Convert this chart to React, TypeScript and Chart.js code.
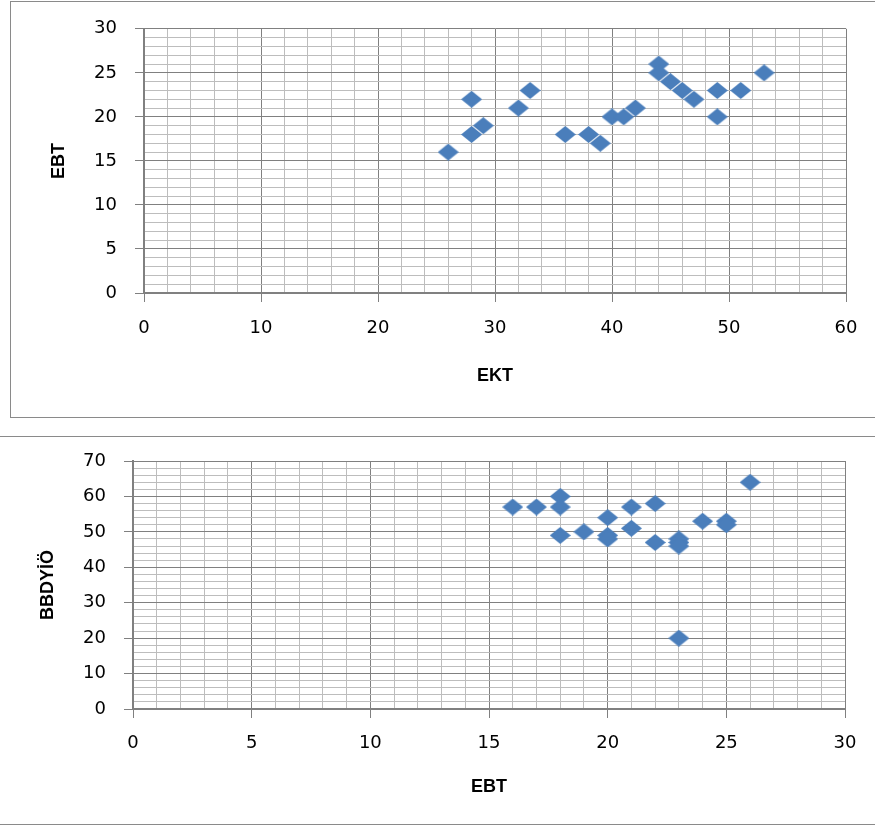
import React, { useEffect, useRef } from "react";
import { Chart, registerables } from "chart.js";

Chart.register(...registerables);

// Chart 1: EKT (x) vs EBT (y)
const ektValues = [26, 28, 28, 29, 32, 33, 36, 38, 39, 40, 41, 42, 44, 44, 45, 46, 47, 49, 49, 51, 53];
const ebtValues1 = [16, 22, 18, 19, 21, 23, 18, 18, 17, 20, 20, 21, 26, 25, 24, 23, 22, 23, 20, 23, 25];

// Chart 2: EBT (x) vs BBDYİÖ (y)
const ebtValues2 = [16, 17, 18, 18, 18, 19, 20, 20, 20, 21, 21, 22, 22, 23, 23, 23, 23, 24, 25, 25, 26];
const bbdyioValues = [57, 57, 60, 57, 49, 50, 54, 49, 48, 57, 51, 58, 47, 48, 47, 46, 20, 53, 53, 52, 64];

const MAJOR = "#808080";
const MINOR = "#bdbdbd";
const MARKER = "#4a7ebb";

function makeDiamond(): HTMLCanvasElement {
  const c = document.createElement("canvas");
  c.width = 21;
  c.height = 17;
  const g = c.getContext("2d")!;
  g.fillStyle = MARKER;
  g.beginPath();
  g.moveTo(0, 8.5);
  g.lineTo(10.5, 0);
  g.lineTo(21, 8.5);
  g.lineTo(10.5, 17);
  g.closePath();
  g.fill();
  return c;
}

type Cfg = {
  xs: number[];
  ys: number[];
  xMax: number;
  xStep: number;
  xMajor: number;
  yMax: number;
  yStep: number;
  yMajor: number;
  xTitle: string;
  yTitle: string;
  width: number;
  height: number;
  padTop: number;
  padRight: number;
  yAxisWidth: number;
  xAxisHeight: number;
  xTickPad: number;
  xTitlePad: number;
  yTitlePad: number;
};

function ScatterBox({ cfg }: { cfg: Cfg }) {
  const ref = useRef<HTMLCanvasElement | null>(null);
  useEffect(() => {
    if (!ref.current) return;
    const diamond = makeDiamond();
    const data = cfg.xs.map((x, i) => ({ x, y: cfg.ys[i] }));
    const isMaj = (v: number, m: number) => Math.abs(v / m - Math.round(v / m)) < 1e-6;
    const tickFont = { family: "'DejaVu Sans'", size: 18 };
    const titleFont = { family: "'Liberation Sans'", size: 18, weight: "bold" as const };
    const chart = new Chart(ref.current, {
      type: "scatter",
      data: {
        datasets: [
          {
            data,
            pointStyle: diamond as any,
            pointRadius: 10,
            backgroundColor: MARKER,
            borderColor: MARKER,
          },
        ],
      },
      options: {
        animation: false,
        responsive: false,
        maintainAspectRatio: false,
        events: [],
        layout: { padding: { left: 0, top: cfg.padTop, right: cfg.padRight, bottom: 0 } },
        plugins: { legend: { display: false }, tooltip: { enabled: false } },
        scales: {
          x: {
            type: "linear",
            min: 0,
            max: cfg.xMax,
            afterFit: (a: any) => {
              a.height = cfg.xAxisHeight;
            },
            ticks: {
              stepSize: cfg.xStep,
              autoSkip: false,
              maxRotation: 0,
              minRotation: 0,
              padding: cfg.xTickPad,
              color: "#000",
              font: tickFont,
              callback: (v: any) => (isMaj(Number(v), cfg.xMajor) ? String(v) : ""),
            },
            grid: {
              color: (c: any) => (isMaj(c.tick.value, cfg.xMajor) ? MAJOR : MINOR),
              tickColor: (c: any) => (isMaj(c.tick.value, cfg.xMajor) ? MAJOR : "rgba(0,0,0,0)"),
              tickLength: 9,
              lineWidth: 1,
            },
            border: { color: MAJOR, width: 2 },
            title: {
              display: true,
              text: cfg.xTitle,
              color: "#000",
              font: titleFont,
              padding: { top: 0, bottom: cfg.xTitlePad },
            },
          },
          y: {
            type: "linear",
            min: 0,
            max: cfg.yMax,
            afterFit: (a: any) => {
              a.width = cfg.yAxisWidth;
            },
            ticks: {
              stepSize: cfg.yStep,
              autoSkip: false,
              padding: 18,
              color: "#000",
              font: tickFont,
              callback: (v: any) => (isMaj(Number(v), cfg.yMajor) ? String(v) : ""),
            },
            grid: {
              color: (c: any) => (isMaj(c.tick.value, cfg.yMajor) ? MAJOR : MINOR),
              tickColor: (c: any) => (isMaj(c.tick.value, cfg.yMajor) ? MAJOR : "rgba(0,0,0,0)"),
              tickLength: 9,
              lineWidth: 1,
            },
            border: { color: MAJOR, width: 2 },
            title: {
              display: true,
              text: cfg.yTitle,
              color: "#000",
              font: titleFont,
              padding: { top: cfg.yTitlePad, bottom: 0 },
            },
          },
        },
      },
    });
    return () => chart.destroy();
  }, [cfg]);
  return <canvas ref={ref} width={cfg.width} height={cfg.height} style={{ display: "block" }} />;
}

const topCfg: Cfg = {
  xs: ektValues,
  ys: ebtValues1,
  xMax: 60,
  xStep: 2,
  xMajor: 10,
  yMax: 30,
  yStep: 1,
  yMajor: 5,
  xTitle: "EKT",
  yTitle: "EBT",
  width: 875,
  height: 417,
  padTop: 28,
  padRight: 29,
  yAxisWidth: 144,
  xAxisHeight: 124,
  xTickPad: 16,
  xTitlePad: 30,
  yTitlePad: 48,
};

const bottomCfg: Cfg = {
  xs: ebtValues2,
  ys: bbdyioValues,
  xMax: 30,
  xStep: 1,
  xMajor: 5,
  yMax: 70,
  yStep: 2,
  yMajor: 10,
  xTitle: "EBT",
  yTitle: "BBDYİÖ",
  width: 875,
  height: 405,
  padTop: 41,
  padRight: 30,
  yAxisWidth: 133,
  xAxisHeight: 116,
  xTickPad: 15,
  xTitlePad: 27,
  yTitlePad: 37,
};

export default function App() {
  return (
    <div style={{ position: "absolute", left: 0, top: 0, width: 875, height: 825, background: "#fff", overflow: "hidden" }}>
      <div style={{ position: "absolute", left: 0, top: 0 }}>
        <ScatterBox cfg={topCfg} />
      </div>
      <div style={{ position: "absolute", left: 0, top: 420 }}>
        <ScatterBox cfg={bottomCfg} />
      </div>
      {/* frame lines of the two chart boxes */}
      <div style={{ position: "absolute", left: 10, top: 1, width: 875, height: 415, borderLeft: "1px solid #8a8a8a", borderTop: "1px solid #8a8a8a", borderBottom: "1px solid #8a8a8a", pointerEvents: "none" }} />
      <div style={{ position: "absolute", left: 0, top: 436, width: 875, height: 387, borderTop: "1px solid #8a8a8a", borderBottom: "1px solid #8a8a8a", pointerEvents: "none" }} />
    </div>
  );
}
